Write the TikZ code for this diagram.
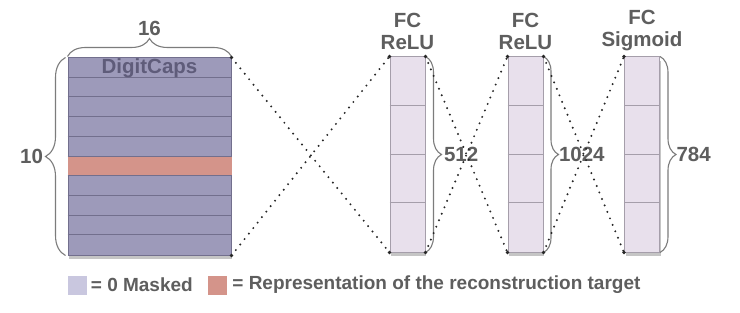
\documentclass[tikz,border=0pt]{standalone}
\usepackage{fontspec}
\setmainfont{Liberation Sans}
\usetikzlibrary{decorations.pathreplacing,shadows,positioning}

\definecolor{capsfill}{HTML}{9D9ABA}
\definecolor{capsline}{HTML}{726F8D}
\definecolor{capstext}{HTML}{5F5C7A}
\definecolor{targetred}{HTML}{D4948A}
\definecolor{fcfill}{HTML}{E8E0EC}
\definecolor{fcline}{HTML}{A59EAA}
\definecolor{labelgray}{HTML}{5E5E5E}
\definecolor{bracegray}{HTML}{7C7C7C}
\definecolor{maskfill}{HTML}{C9C7DF}

\begin{document}
\begin{tikzpicture}[x=1pt, y=-1pt,
    lbl/.style={font=\fontsize{20.5}{22}\selectfont\bfseries, text=labelgray, align=center, inner sep=1pt},
    keytext/.style={font=\fontsize{19}{20}\selectfont\bfseries, text=labelgray, inner sep=1pt},
    fccol/.style={draw=fcline, fill=fcfill, line width=1pt, minimum width=35pt, minimum height=195pt, inner sep=0pt,
        drop shadow={shadow xshift=1pt, shadow yshift=-4pt, opacity=.45}},
    curly/.style={decorate, decoration={brace, amplitude=#1}, draw=bracegray, line width=1.1pt},
    conn/.style={draw=black!85, line width=2.2pt, dash pattern=on 0pt off 7pt, line cap=round}
]
    % Canvas
    \fill[white] (0,0) rectangle (740,313);
    \useasboundingbox (0,0) rectangle (740,313);

    % DigitCaps block
    \node[draw=capsline, fill=capsfill, line width=1pt, minimum width=163pt, minimum height=197pt, inner sep=0pt,
        drop shadow={shadow xshift=1pt, shadow yshift=-4pt, opacity=.45}] (caps) at (149.5,156.5) {};
    \fill[targetred] ([yshift=-98.5pt]caps.north west) rectangle ([yshift=-118.2pt]caps.north east);
    \foreach \i in {1,...,9}
        \draw[capsline, line width=0.8pt] ([yshift=-\i*19.7pt]caps.north west) -- ([yshift=-\i*19.7pt]caps.north east);
    \node[font=\fontsize{20.5}{22}\selectfont\bfseries, text=capstext] (capslabel) at ([yshift=-11pt]caps.north) {DigitCaps};

    % Braces of the block
    \draw[curly=20pt] ([xshift=-2pt]caps.south west) -- ([xshift=-2pt]caps.north west)
        node[midway, left=21pt, lbl] (rows) {10};
    \draw[curly=18pt] ([yshift=1pt]caps.north west) -- ([yshift=1pt]caps.north east)
        node[midway, above=19pt, lbl] (cols) {16};

    % FC layers
    \node[fccol] (fcA) at (407.5,154.5) {};
    \node[fccol] (fcB) at (525.5,154.5) {};
    \node[fccol] (fcC) at (642,154.5) {};
    \foreach \c in {fcA,fcB,fcC}
        \foreach \k in {1,2,3}
            \draw[fcline, line width=1pt] ([yshift=-\k*48.75pt]\c.north west) -- ([yshift=-\k*48.75pt]\c.north east);

    \node[lbl] (fcAlabel) at (407.5,31) {FC\\ReLU};
    \node[lbl] (fcBlabel) at (525.5,31) {FC\\ReLU};
    \node[lbl] (fcClabel) at (642,31) {FC\\Sigmoid};

    % Sizes of the layers
    \draw[curly=16pt] (fcA.north east) -- (fcA.south east) node[midway, right=17pt, lbl] (sizeA) {512};
    \draw[curly=15pt] (fcB.north east) -- (fcB.south east) node[midway, right=14pt, lbl] (sizeB) {1024};
    \draw[curly=16pt] (fcC.north east) -- (fcC.south east) node[midway, right=15pt, lbl] (sizeC) {784};

    % Full connections
    \draw[conn] (caps.north east) -- (fcA.south west);
    \draw[conn] (caps.south east) -- (fcA.north west);
    \draw[conn] (fcA.north east) -- (fcB.south west);
    \draw[conn] (fcA.south east) -- (fcB.north west);
    \draw[conn] (fcB.north east) -- (fcC.south west);
    \draw[conn] (fcB.south east) -- (fcC.north west);
    \foreach \p in {caps.north east, caps.south east, fcA.north west, fcA.south west, fcA.north east, fcA.south east,
                    fcB.north west, fcB.south west, fcB.north east, fcB.south east, fcC.north west, fcC.south west}
        \fill[black!85] (\p) circle (1.9pt);

    % Legend
    \node[fill=maskfill, minimum size=19pt, inner sep=0pt] (maskkey) at (77,285) {};
    \node[keytext, right=3pt of maskkey] (masktext) {= 0 Masked};
    \node[fill=targetred, minimum size=19pt, inner sep=0pt] (targetkey) at (217.5,285) {};
    \node[keytext, right=4pt of targetkey] (targettext) {= Representation of the reconstruction target};
\end{tikzpicture}
\end{document}
